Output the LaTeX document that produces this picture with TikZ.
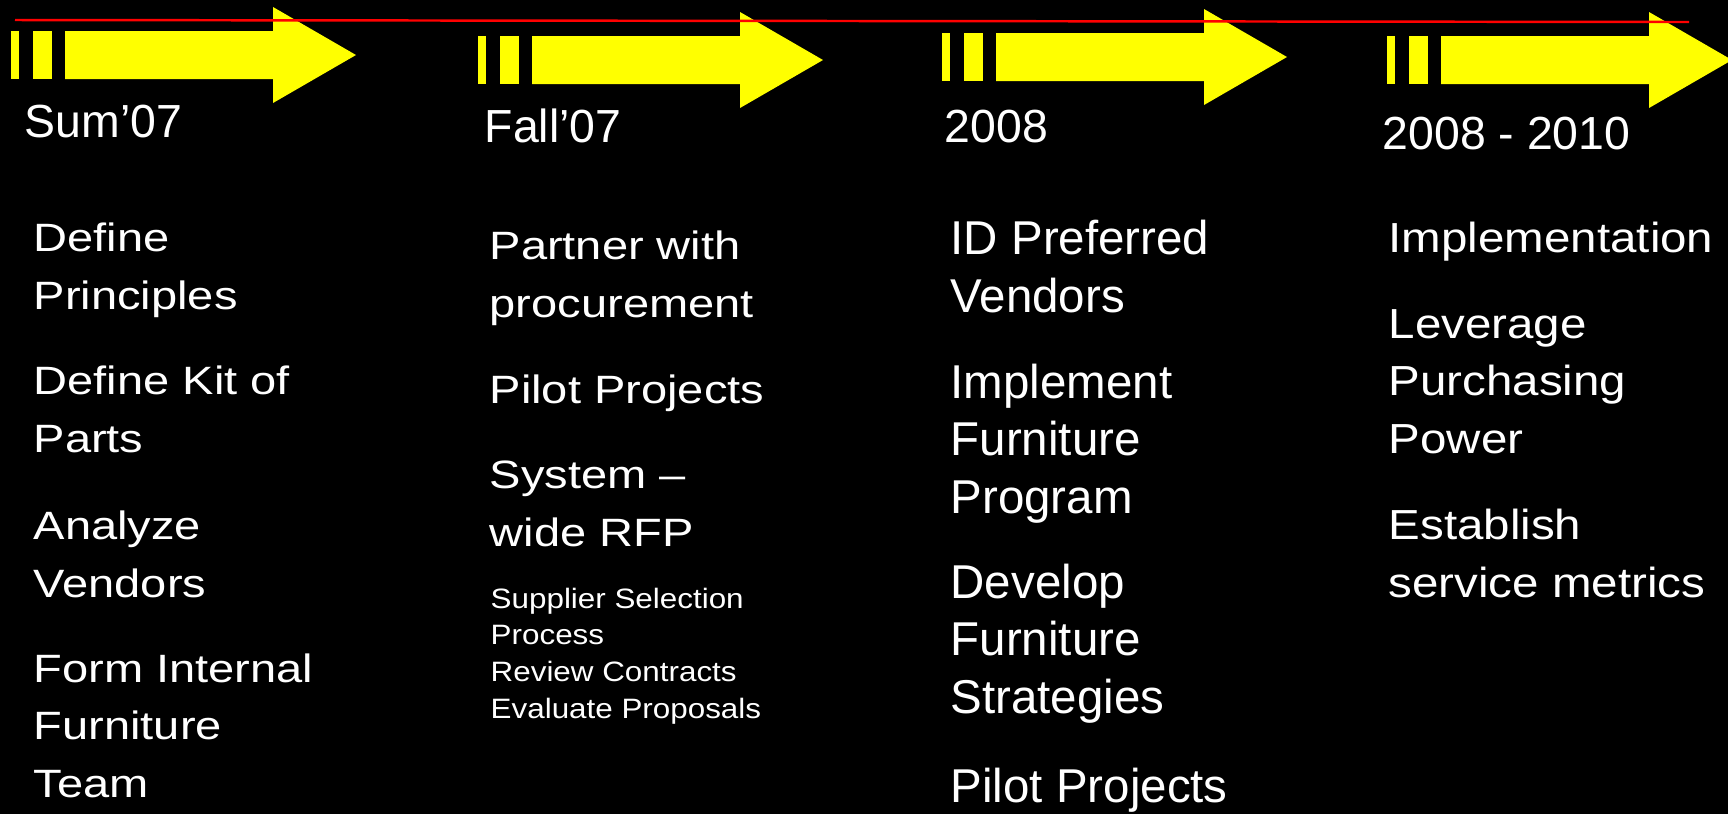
\documentclass[tikz,border=0pt]{standalone}
\usepackage{fontspec}
\setmainfont{Liberation Sans}
\newfontfamily\wideface[FakeStretch=1.19]{Liberation Sans}
\newfontfamily\midface[FakeStretch=1.13]{Liberation Sans}
\newfontfamily\smallface[FakeStretch=1.12]{Liberation Sans}
\definecolor{arrowyellow}{RGB}{255,255,0}
\definecolor{lineRed}{RGB}{255,0,0}

\begin{document}
\begin{tikzpicture}[x=0.01cm, y=-0.01cm,
  year/.style = {anchor=base west, inner sep=0, text=white, font=\fontsize{13.2}{16}\selectfont},
  task/.style = {anchor=base west, inner sep=0, text=white, align=left, font=\wideface\fontsize{11.24}{16.22}\selectfont},
  bigtask/.style = {task, font=\fontsize{13.5}{16.22}\selectfont},
  midtask/.style = {task, font=\midface\fontsize{11.95}{16.22}\selectfont},
  subtask/.style = {task, font=\smallface\fontsize{7.97}{10.4}\selectfont},
  phase/.pic = {
    \fill[arrowyellow] (0,-24) rectangle (8,24);
    \fill[arrowyellow] (22,-24) rectangle (41,24);
    \fill[arrowyellow] (54,-24) -- (262,-24) -- (262,-48) -- (345,0) -- (262,48) -- (262,24) -- (54,24) -- cycle;
  }]
\useasboundingbox (0,0) rectangle (1728,814);
\fill[black] (0,0) rectangle (1728,814);
\clip (0,0) rectangle (1728,814);

% arrows
\pic at (11,55) {phase};
\pic at (478,60) {phase};
\pic at (942,57) {phase};
\pic at (1387,60) {phase};

\draw[lineRed, line width=0.7pt] (15,20) -- (1689,22);

% dates
\node[year] (sum07) at (24,137) {Sum’07};
\node[year] (fall07) at (484,142) {Fall’07};
\node[year] (yr2008) at (944,142) {2008};
\node[year] (yr0810) at (1382,149) {2008 - 2010};

% first column (anchored on the last line)
\node[task] (principles) at (33,309) {Define\\Principles};
\node[task] (kitparts) at (33,452) {Define Kit of\\Parts};
\node[task] (vendors) at (33,597) {Analyze\\Vendors};
\node[task] (team) at (33,797) {Form Internal\\Furniture\\Team};

% second column
\node[task] (procure) at (489,317) {Partner with\\procurement};
\node[task] (pilotA) at (489,403) {Pilot Projects};
\node[task] (rfp) at (489,546) {System –\\wide RFP};
\node[subtask] (supplier) at (490,718) {Supplier Selection\\Process\\Review Contracts\\Evaluate Proposals};

% third column
\node[bigtask] (preferred) at (950,312) {ID Preferred\\Vendors};
\node[bigtask] (program) at (950,513) {Implement\\Furniture\\Program};
\node[bigtask] (strategies) at (950,713) {Develop\\Furniture\\Strategies};
\node[bigtask] (pilotB) at (950,802) {Pilot Projects};

% fourth column
\node[midtask] (implementation) at (1388,252) {Implementation};
\node[midtask] (leverage) at (1388,453) {Leverage\\Purchasing\\Power};
\node[midtask] (metrics) at (1388,597) {Establish\\service metrics};

\end{tikzpicture}
\end{document}
